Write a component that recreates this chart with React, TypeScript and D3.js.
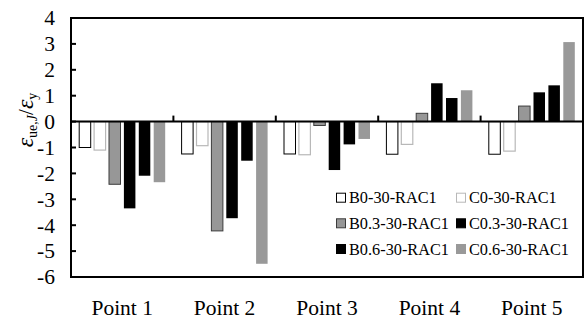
import React from "react";
import * as d3 from "d3";

// Measuring points along the member
const categories = ["Point 1", "Point 2", "Point 3", "Point 4", "Point 5"];

// Specimen series
const seriesNames = [
  "B0-30-RAC1",
  "C0-30-RAC1",
  "B0.3-30-RAC1",
  "C0.3-30-RAC1",
  "B0.6-30-RAC1",
  "C0.6-30-RAC1",
];

// Strain ratio per series, one value per point
const b0 = [-1.0, -1.25, -1.25, -1.26, -1.26];
const c0 = [-1.1, -0.93, -1.28, -0.88, -1.14];
const b03 = [-2.42, -4.22, -0.15, 0.32, 0.6];
const c03 = [-3.35, -3.73, -1.87, 1.48, 1.13];
const b06 = [-2.09, -1.51, -0.88, 0.91, 1.4];
const c06 = [-2.34, -5.49, -0.67, 1.21, 3.07];

const seriesValues = [b0, c0, b03, c03, b06, c06];

const yTicks = [4, 3, 2, 1, 0, -1, -2, -3, -4, -5, -6];

const styles = [
  { fill: "#ffffff", stroke: "#000000", sw: 1 },
  { fill: "#ffffff", stroke: "#b8b8b8", sw: 1.2 },
  { fill: "#979797", stroke: "#3c3c3c", sw: 1 },
  { fill: "#000000", stroke: "none", sw: 0 },
  { fill: "#000000", stroke: "none", sw: 0 },
  { fill: "#999999", stroke: "none", sw: 0 },
];

const W = 585;
const H = 322;
const plot = { left: 71, right: 583, top: 18, bottom: 277 };
const FONT = "'Liberation Serif', 'Times New Roman', serif";

export default function App() {
  const x = d3
    .scaleBand<string>()
    .domain(categories)
    .range([plot.left, plot.right])
    .padding(0);
  const inner = d3
    .scaleBand<string>()
    .domain(seriesNames)
    .range([8.2, 94.2])
    .paddingInner(0.228)
    .paddingOuter(0);
  const y = d3.scaleLinear().domain([-6, 4]).range([plot.bottom, plot.top]);
  const y0 = y(0);

  const legendRows = [197.7, 223.3, 249];
  const legendCols = [336.5, 456.5];

  return (
    <svg
      width={W}
      height={H}
      style={{ position: "absolute", left: 0, top: 0, background: "#fff" }}
      fontFamily={FONT}
    >
      {/* bars */}
      {seriesNames.map((s, si) => (
        <g key={s}>
          {categories.map((c, ci) => {
            const v = seriesValues[si][ci];
            const bx = (x(c) as number) + (inner(s) as number);
            const top = Math.min(y(v), y0);
            const h = Math.abs(y(v) - y0);
            const st = styles[si];
            return (
              <rect
                key={c}
                x={bx}
                y={top}
                width={inner.bandwidth()}
                height={h}
                fill={st.fill}
                stroke={st.stroke}
                strokeWidth={st.sw}
              />
            );
          })}
        </g>
      ))}

      {/* zero line */}
      <line x1={plot.left} x2={plot.right} y1={y0} y2={y0} stroke="#000" strokeWidth={2} />

      {/* category boundary ticks on the zero line */}
      {categories.slice(1).map((c) => (
        <line
          key={c}
          x1={x(c) as number}
          x2={x(c) as number}
          y1={y0}
          y2={y0 - 6}
          stroke="#000"
          strokeWidth={2}
        />
      ))}

      {/* frame */}
      <rect
        x={plot.left}
        y={plot.top}
        width={plot.right - plot.left}
        height={plot.bottom - plot.top}
        fill="none"
        stroke="#000"
        strokeWidth={2}
      />

      {/* y ticks and labels */}
      {yTicks.map((t) => (
        <g key={t}>
          <line
            x1={plot.left}
            x2={plot.left + 5}
            y1={y(t)}
            y2={y(t)}
            stroke="#000"
            strokeWidth={2}
          />
          <text
            x={55}
            y={y(t)}
            dy="0.34em"
            textAnchor="end"
            fontSize={21.5}
            fill="#000"
          >
            {t}
          </text>
        </g>
      ))}

      {/* x labels */}
      {categories.map((c) => (
        <text
          key={c}
          x={(x(c) as number) + x.bandwidth() / 2}
          y={315}
          textAnchor="middle"
          fontSize={21.5}
          fill="#000"
        >
          {c}
        </text>
      ))}

      {/* y axis title */}
      <text
        transform={`translate(33, 120) rotate(-90)`}
        textAnchor="middle"
        fontSize={24}
        fill="#000"
      >
        <tspan fontStyle="italic">ε</tspan>
        <tspan fontSize={14} dy={4}>ue,</tspan>
        <tspan fontSize={14} fontStyle="italic">J</tspan>
        <tspan dy={-4} fontSize={21}>/</tspan>
        <tspan fontStyle="italic">ε</tspan>
        <tspan fontSize={14} dy={4}>y</tspan>
      </text>

      {/* legend */}
      {seriesNames.map((s, i) => {
        const col = i % 2;
        const row = Math.floor(i / 2);
        const lx = legendCols[col];
        const ly = legendRows[row];
        const st = styles[i];
        return (
          <g key={s}>
            <rect
              x={lx}
              y={ly - 4.5}
              width={9}
              height={9}
              fill={st.fill}
              stroke={st.stroke === "none" ? st.fill : st.stroke}
              strokeWidth={1}
            />
            <text x={lx + 12.5} y={ly} dy="0.35em" fontSize={16.3} fill="#000">
              {s}
            </text>
          </g>
        );
      })}
    </svg>
  );
}
